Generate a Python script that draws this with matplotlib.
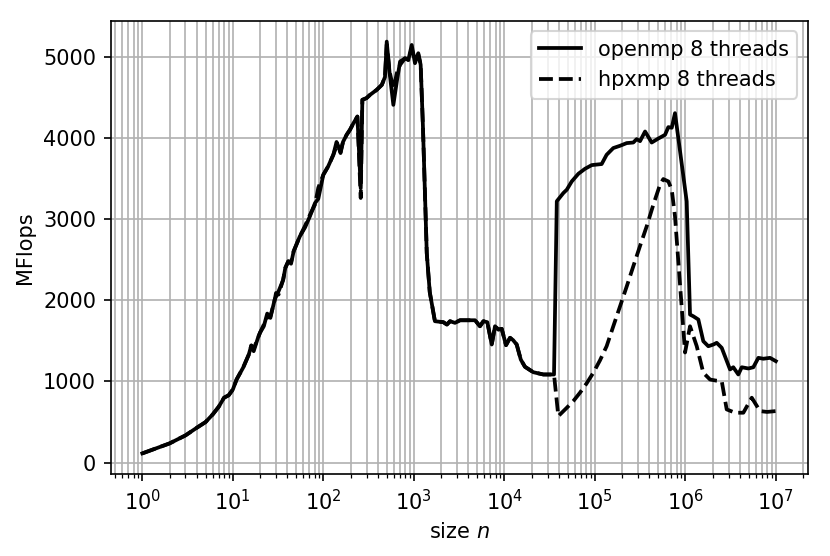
import matplotlib
matplotlib.use("Agg")
import matplotlib.pyplot as plt

# openmp 8 threads
openmp_n = [1, 2, 3, 4, 5, 6, 7, 8, 9, 10, 11, 13, 15, 16, 17, 19, 20, 22, 24, 26,
            29, 32, 36, 38, 41, 44, 47, 55, 63, 71, 81, 88, 100, 113, 129, 140, 147,
            155, 165, 181, 197, 215, 238, 259, 270, 300, 328, 389, 443, 480, 502, 540,
            594, 650, 705, 800, 870, 948, 1030, 1120, 1190, 1260, 1390, 1500, 1710,
            2120, 2320, 2510, 2850, 3240, 3870, 4750, 5380, 5870, 6490, 7260, 7890,
            8590, 9360, 10440, 11560, 12480, 13700, 15200, 16900, 20900, 27000, 35400,
            38000, 44900, 49000, 55600, 65800, 78000, 92500, 119000, 135000, 160000,
            190000, 225000, 266000, 290000, 316000, 359000, 425000, 499000, 597000,
            649000, 708000, 769000, 1035000, 1127000, 1225000, 1392000, 1580000,
            1795000, 2040000, 2222000, 2525000, 3117000, 3390000, 3850000, 4200000,
            4970000, 5640000, 6410000, 7280000, 8630000, 10000000]
openmp_mf = [114, 237, 336, 430, 500, 594, 690, 800, 830, 900, 1024, 1170, 1330, 1443,
             1373, 1540, 1602, 1680, 1836, 1783, 2008, 2110, 2250, 2398, 2480, 2450,
             2603, 2787, 2900, 3033, 3198, 3250, 3546, 3648, 3792, 3950, 3894, 3813,
             3950, 4038, 4100, 4180, 4263, 3380, 4469, 4490, 4530, 4592, 4653, 4750,
             5186, 4800, 4407, 4700, 4940, 4981, 4960, 5145, 4920, 5043, 4900, 4150,
             2580, 2100, 1742, 1730, 1701, 1742, 1722, 1754, 1754, 1754, 1680, 1742,
             1730, 1455, 1680, 1640, 1648, 1447, 1538, 1510, 1455, 1270, 1181, 1114,
             1086, 1086, 3220, 3321, 3362, 3464, 3558, 3620, 3665, 3678, 3792, 3875,
             3903, 3936, 3943, 3985, 3960, 4079, 3943, 3990, 4038, 4133, 4125, 4305,
             3218, 1824, 1803, 1763, 1496, 1434, 1455, 1476, 1414, 1148, 1175, 1086,
             1175, 1160, 1175, 1291, 1280, 1291, 1250]

# hpxmp 8 threads
hpxmp_n = [1, 2, 3, 4, 5, 6, 7, 8, 9, 10, 11, 13, 15, 16, 17, 19, 20, 22, 24, 26,
           29, 30, 32, 36, 38, 41, 44, 47, 55, 63, 71, 81, 88, 100, 113, 129, 140, 147,
           155, 165, 181, 197, 215, 238, 259, 270, 300, 328, 389, 443, 480, 502, 540,
           594, 650, 705, 800, 870, 948, 1030, 1120, 1190, 1260, 1390, 1500, 1710,
           2120, 2320, 2510, 2850, 3240, 3870, 4750, 5380, 5870, 6490, 7260, 7890,
           8590, 9360, 10440, 11560, 12480, 13700, 15200, 16900, 20900, 27000, 35400,
           39500, 49000, 58000, 68500, 81000, 96200, 114000, 135000, 160000, 190000,
           225000, 266000, 316000, 374000, 443000, 525000, 571000, 649000, 708000,
           769000, 873000, 993000, 1127000, 1337000, 1580000, 1875000, 2200000,
           2525000, 2864000, 3540000, 4375000, 5420000, 6680000, 8000000, 10000000]
hpxmp_mf = [114, 237, 336, 430, 500, 594, 690, 800, 830, 900, 1024, 1170, 1330, 1443,
            1400, 1540, 1602, 1700, 1790, 1800, 2000, 2090, 2070, 2255, 2398, 2480,
            2470, 2603, 2787, 2920, 3050, 3180, 3386, 3546, 3648, 3792, 3900, 3894,
            3830, 3950, 4038, 4100, 4180, 4263, 3260, 4469, 4490, 4530, 4592, 4653,
            4750, 5150, 4820, 4600, 4800, 4900, 4981, 4960, 5100, 4950, 5030, 4900,
            4150, 2580, 2100, 1742, 1730, 1701, 1742, 1722, 1754, 1754, 1754, 1680,
            1742, 1730, 1455, 1680, 1640, 1648, 1447, 1538, 1510, 1455, 1270, 1181,
            1114, 1086, 1086, 573, 676, 760, 861, 975, 1107, 1260, 1434, 1680, 1926,
            2170, 2418, 2670, 2910, 3177, 3423, 3493, 3464, 3362, 3033, 2200, 1357,
            1680, 1434, 1107, 1024, 1010, 1004, 656, 615, 615, 800, 635, 625, 635]

fig = plt.figure(figsize=(830 / 150, 556 / 150), dpi=150)
ax = fig.add_axes([0.1333, 0.1475, 0.9729 - 0.1333, 0.9622 - 0.1475])

ax.plot(openmp_n, openmp_mf, color="black", linestyle="-", linewidth=1.8,
        label="openmp 8 threads")
ax.plot(hpxmp_n, hpxmp_mf, color="black", linestyle="--", linewidth=1.8,
        label="hpxmp 8 threads")

ax.set_xscale("log")
ax.grid(True, which="both")
ax.set_xlabel("size $n$")
ax.set_ylabel("MFlops")
ax.legend(loc="upper right")

fig.savefig("out.png", dpi=150)
